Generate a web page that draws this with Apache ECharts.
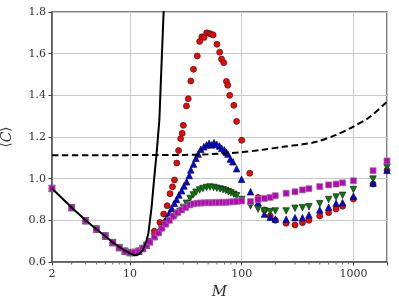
<!DOCTYPE html>
<html><head><meta charset="utf-8">
<script src="https://cdn.jsdelivr.net/npm/echarts@6/dist/echarts.min.js"></script>
<style>html,body{margin:0;padding:0;background:#fff}#c{width:399px;height:307px}</style>
</head><body><div id="c"></div>
<script>
// ---- data ----
const xTickLabels = [2, 10, 100, 1000];
const yTicks = [0.6, 0.8, 1.0, 1.2, 1.4, 1.6, 1.8];
const minorTicks = [3,4,5,6,7,8,9,20,30,40,50,60,70,80,90,200,300,400,500,600,700,800,900];

const mCommon = [2, 3, 4, 5, 6, 7, 8, 9, 10, 11, 12, 13, 14, 15];
const cCommon = [0.953, 0.861, 0.798, 0.758, 0.725, 0.693, 0.669, 0.652, 0.645, 0.646, 0.652, 0.665, 0.68, 0.697];

const mRed = [16.5, 18.5, 20, 21.5, 22.8, 24, 25, 26.2, 27.2, 28.4, 29.3, 30, 32, 33.2, 35, 37, 40, 42, 44, 46, 48.5, 51, 53, 55.5, 60, 63.5, 66, 69, 73, 75, 78, 85, 90, 100, 118, 140, 160, 180, 200, 250, 300, 350, 400, 500, 600, 700, 800, 1000, 1500, 2000];
const cRed = [0.748, 0.79, 0.83, 0.87, 0.928, 0.961, 0.994, 1.075, 1.135, 1.192, 1.218, 1.256, 1.349, 1.384, 1.469, 1.525, 1.589, 1.659, 1.681, 1.678, 1.70, 1.697, 1.694, 1.69, 1.645, 1.607, 1.574, 1.557, 1.467, 1.448, 1.40, 1.352, 1.275, 1.184, 1.026, 0.91, 0.85, 0.821, 0.80, 0.786, 0.778, 0.789, 0.80, 0.821, 0.837, 0.854, 0.868, 0.902, 0.974, 1.04];

const mBlue = [16.5, 18, 19.3, 20.3, 21.3, 22.5, 23.6, 24.9, 26.1, 27.4, 29, 30.4, 32.1, 33.9, 35, 37, 38.9, 40.7, 43, 45.8, 48.4, 51.1, 53.8, 56.5, 59.8, 63.2, 66.2, 69.9, 72.8, 75.2, 79.1, 83.4, 90, 99.7, 120, 140, 160, 180, 200, 250, 300, 350, 400, 500, 600, 700, 800, 1000, 1500, 2000];
const cBlue = [0.722, 0.745, 0.77, 0.794, 0.813, 0.837, 0.858, 0.882, 0.90, 0.922, 0.942, 0.965, 0.985, 1.015, 1.042, 1.07, 1.098, 1.118, 1.141, 1.153, 1.162, 1.17, 1.162, 1.173, 1.165, 1.157, 1.146, 1.138, 1.127, 1.118, 1.094, 1.081, 1.048, 0.997, 0.937, 0.885, 0.83, 0.815, 0.806, 0.805, 0.813, 0.813, 0.826, 0.85, 0.863, 0.882, 0.885, 0.916, 0.979, 1.04];

const mGreen = [16.5, 18, 19.3, 21, 22.5, 24.4, 26, 28, 30, 32, 34.5, 36.8, 39, 42, 45, 48.5, 52, 56, 60, 64, 68, 72, 76, 80, 85, 90, 100, 120, 140, 160, 180, 200, 250, 300, 350, 400, 500, 600, 700, 800, 1000, 1500, 2000];
const cGreen = [0.721, 0.74, 0.762, 0.782, 0.80, 0.818, 0.827, 0.843, 0.862, 0.882, 0.905, 0.922, 0.935, 0.946, 0.953, 0.958, 0.96, 0.958, 0.954, 0.951, 0.947, 0.943, 0.937, 0.932, 0.925, 0.918, 0.90, 0.869, 0.854, 0.845, 0.842, 0.845, 0.845, 0.858, 0.861, 0.865, 0.88, 0.90, 0.912, 0.92, 0.948, 0.998, 1.055];

const mMag = [16.5, 18, 19.2, 20.9, 22.5, 24.4, 26.7, 29, 31.5, 34.4, 37, 40, 43, 46, 50, 54, 58, 62, 67, 72, 77, 83, 90, 100, 120, 140, 160, 180, 200, 250, 300, 350, 400, 500, 600, 700, 800, 1000, 1500, 2000];
const cMag = [0.721, 0.74, 0.762, 0.782, 0.80, 0.82, 0.837, 0.85, 0.862, 0.874, 0.879, 0.882, 0.883, 0.884, 0.885, 0.884, 0.886, 0.885, 0.887, 0.886, 0.888, 0.889, 0.89, 0.893, 0.89, 0.90, 0.905, 0.91, 0.918, 0.93, 0.937, 0.946, 0.952, 0.962, 0.97, 0.974, 0.98, 0.99, 1.038, 1.085];

const mSolid = [2, 3, 4, 5, 6, 7, 8, 9, 10, 11, 12, 13, 14, 14.6, 15.6, 16.4, 17.4, 18.3, 19.05, 19.98, 20.3];
const cSolid = [0.953, 0.862, 0.80, 0.757, 0.724, 0.695, 0.672, 0.655, 0.642, 0.632, 0.637, 0.657, 0.70, 0.738, 0.865, 0.994, 1.138, 1.282, 1.522, 1.80, 1.9];

const mDash = [2, 10, 30, 50, 100, 150, 235, 350, 466, 700, 1000, 1410, 2000];
const cDash = [1.113, 1.113, 1.114, 1.117, 1.127, 1.138, 1.153, 1.165, 1.177, 1.21, 1.25, 1.297, 1.37];

// ---- build ----
const zip = (a, b) => a.map((v, i) => [v, b[i]]);
const withCommon = (m, c) => zip(mCommon, cCommon).concat(zip(m, c));
const font = '"DejaVu Serif", serif';

const chart = echarts.init(document.getElementById('c'), null, {renderer: 'canvas'});
const mk = (name, data, symbol, color, border, size, rot) => ({
  name, type: 'scatter', data, symbol, symbolSize: size, symbolRotate: rot || 0,
  itemStyle: {color, borderColor: border, borderWidth: 0.7, opacity: 1},
  silent: true, animation: false
});

chart.setOption({
  animation: false,
  grid: {left: 52, right: 12, top: 12, bottom: 45, show: true, borderColor: '#555', borderWidth: 1.5,
    containLabel: false, outerBoundsMode: 'none'},
  xAxis: {
    type: 'log', logBase: 10, min: 2, max: 2000,
    name: 'M', nameLocation: 'middle', nameGap: 20,
    nameTextStyle: {fontFamily: font, fontStyle: 'italic', fontSize: 15, color: '#333'},
    axisLine: {show: true, lineStyle: {color: '#555', width: 1.5}},
    axisTick: {show: true, length: 3.5, lineStyle: {color: '#444'}},
    axisLabel: {fontFamily: font, fontSize: 11, color: '#333', margin: 7,
      formatter: v => xTickLabels.some(t => Math.abs(t - v) < 1e-6) ? String(Math.round(v)) : ''},
    splitLine: {show: true, lineStyle: {color: '#c8c8c8', width: 1}}
  },
  yAxis: {
    type: 'value', min: yTicks[0], max: yTicks[yTicks.length - 1], interval: 0.2,
    name: '{a|⟨}{c|C}{a|⟩}', nameLocation: 'middle', nameGap: 38, nameRotate: 90,
    nameTextStyle: {color: '#333', rich: {
      a: {fontFamily: '"DejaVu Sans", sans-serif', fontSize: 13, color: '#333'},
      c: {fontFamily: font, fontStyle: 'italic', fontSize: 14, color: '#333'}}},
    axisLine: {show: true, lineStyle: {color: '#555', width: 1.5}},
    axisTick: {show: true, length: 3.5, lineStyle: {color: '#444'}},
    axisLabel: {fontFamily: font, fontSize: 11, color: '#333', margin: 6, formatter: v => v.toFixed(1)},
    splitLine: {show: true, lineStyle: {color: '#c8c8c8', width: 1}}
  },
  series: [
    mk('red', withCommon(mRed, cRed), 'circle', '#ff0000', '#222', 6),
    mk('blue', withCommon(mBlue, cBlue), 'triangle', '#0000ff', '#111', 6.5),
    mk('green', withCommon(mGreen, cGreen), 'triangle', '#008000', '#222', 6.5, 180),
    mk('magenta', withCommon(mMag, cMag), 'rect', '#bf00bf', '#888', 6),
    {type: 'line', data: zip(mSolid, cSolid), showSymbol: false, symbol: 'none', clip: true,
      lineStyle: {color: '#000', width: 2}, z: 5, silent: true},
    {type: 'line', data: zip(mDash, cDash), showSymbol: false, symbol: 'none', smooth: 0.3, clip: true,
      lineStyle: {color: '#000', width: 2, type: [6.5, 3.5]}, z: 5, silent: true},
    {type: 'custom', data: minorTicks.map(v => [v, yTicks[0]]), silent: true, z: 6, clip: false,
      renderItem: (params, api) => {
        const p = api.coord([api.value(0), api.value(1)]);
        return {type: 'line', shape: {x1: p[0], y1: p[1] + 0.75, x2: p[0], y2: p[1] + 2.5},
          style: {stroke: '#444', lineWidth: 0.8}};
      }}
  ]
});
</script></body></html>
